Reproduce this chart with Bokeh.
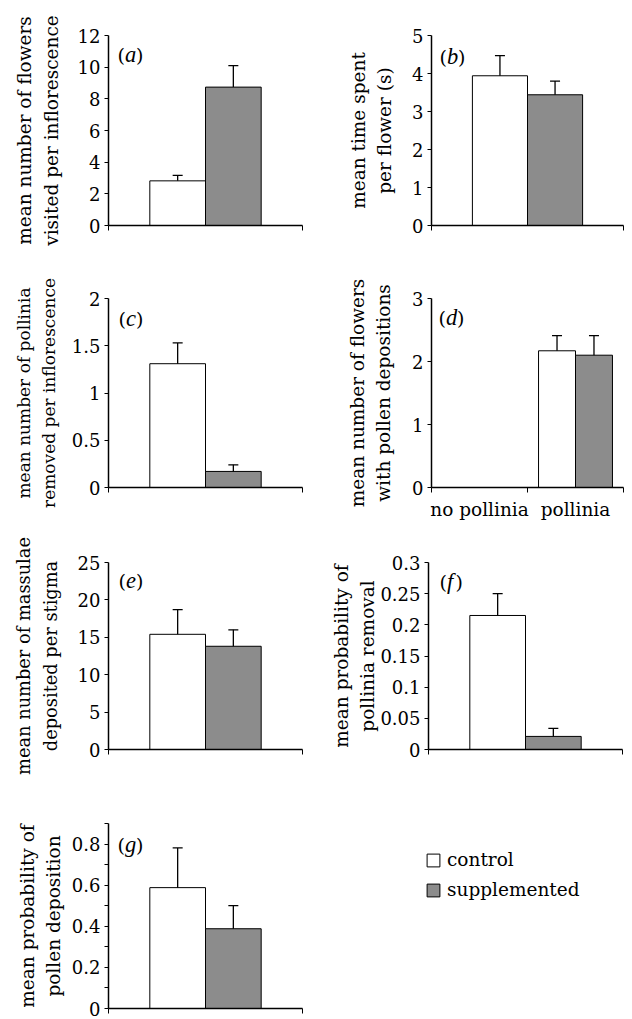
import math
from bokeh.plotting import figure
from bokeh.models import (Range1d, FixedTicker, CustomJSTickFormatter, Label, Whisker,
                          TeeHead, ColumnDataSource, Legend, LegendItem)
from bokeh.layouts import column, row
from bokeh.embed import file_html
from bokeh.resources import INLINE

NAN = float("nan")
SERIES = ["control", "supplemented"]

# ---------------- data ----------------
# (a)
A_CATEGORIES = [""]
A_CONTROL = [2.82]
A_CONTROL_UPPER = [3.16]
A_SUPPLEMENTED = [8.74]
A_SUPPLEMENTED_UPPER = [10.1]
A_YTICKS = [0, 2, 4, 6, 8, 10, 12]
A_YMINOR = []
A_YMAX = 12
A_YLABEL = "mean number of flowers\nvisited per inflorescence"

# (b)
B_CATEGORIES = [""]
B_CONTROL = [3.94]
B_CONTROL_UPPER = [4.47]
B_SUPPLEMENTED = [3.44]
B_SUPPLEMENTED_UPPER = [3.80]
B_YTICKS = [0, 1, 2, 3, 4, 5]
B_YMINOR = []
B_YMAX = 5
B_YLABEL = "mean time spent\nper flower (s)"

# (c)
C_CATEGORIES = [""]
C_CONTROL = [1.31]
C_CONTROL_UPPER = [1.53]
C_SUPPLEMENTED = [0.17]
C_SUPPLEMENTED_UPPER = [0.24]
C_YTICKS = [0, 0.5, 1, 1.5, 2]
C_YMINOR = []
C_YMAX = 2
C_YLABEL = "mean number of pollinia\nremoved per inflorescence"

# (d)
D_CATEGORIES = ["no pollinia", "pollinia"]
D_CONTROL = [NAN, 2.17]
D_CONTROL_UPPER = [NAN, 2.41]
D_SUPPLEMENTED = [NAN, 2.10]
D_SUPPLEMENTED_UPPER = [NAN, 2.41]
D_YTICKS = [0, 1, 2, 3]
D_YMINOR = []
D_YMAX = 3
D_YLABEL = "mean number of flowers\nwith pollen depositions"

# (e)
E_CATEGORIES = [""]
E_CONTROL = [15.4]
E_CONTROL_UPPER = [18.7]
E_SUPPLEMENTED = [13.8]
E_SUPPLEMENTED_UPPER = [16.0]
E_YTICKS = [0, 5, 10, 15, 20, 25]
E_YMINOR = []
E_YMAX = 25
E_YLABEL = "mean number of massulae\ndeposited per stigma"

# (f)
F_CATEGORIES = [""]
F_CONTROL = [0.215]
F_CONTROL_UPPER = [0.250]
F_SUPPLEMENTED = [0.021]
F_SUPPLEMENTED_UPPER = [0.034]
F_YTICKS = [0, 0.05, 0.1, 0.15, 0.2, 0.25, 0.3]
F_YMINOR = []
F_YMAX = 0.3
F_YLABEL = "mean probability of\npollinia removal"

# (g)
G_CATEGORIES = [""]
G_CONTROL = [0.588]
G_CONTROL_UPPER = [0.781]
G_SUPPLEMENTED = [0.388]
G_SUPPLEMENTED_UPPER = [0.50]
G_YTICKS = [0, 0.2, 0.4, 0.6, 0.8]
G_YMINOR = [0.1, 0.3, 0.5, 0.7, 0.9]
G_YMAX = 0.9
G_YLABEL = "mean probability of\npollen deposition"

# ---------------- style ----------------
FONT = "DejaVu Serif"
ITALIC_FONT = "Liberation Serif"
TICK_SIZE = "18px"
LABEL_SIZE = "18.5px"
GRAY = "#8c8c8c"

ROW_STYLE = [
    dict(bt=35, fh=190, bb=45),
    dict(bt=28, fh=189, bb=47),
    dict(bt=28, fh=187, bb=47),
    dict(bt=27, fh=185, bb=11),
]
LETTER_W = {"a": 11.2, "b": 11.2, "c": 10, "d": 11.2, "e": 10, "f": 8.5, "g": 11.2}


def make_panel(letter, cats, ctrl, ctrl_up, supp, supp_up, yticks, yminor, ymax,
               ylabel, st, rs):
    n = len(cats)
    p = figure(frame_width=st["fw"], frame_height=rs["fh"],
               min_border_left=st["bl"], min_border_right=st["br"],
               min_border_top=rs["bt"], min_border_bottom=rs["bb"],
               x_range=Range1d(0, n), y_range=Range1d(0, ymax),
               output_backend="svg", toolbar_location=None, tools="")
    p.grid.visible = False
    p.outline_line_color = None
    bw = st["bw"]
    centers = [i + 0.5 for i in range(n)]
    src_c = ColumnDataSource(dict(x=[c - bw / 2 for c in centers], top=ctrl, upper=ctrl_up))
    src_s = ColumnDataSource(dict(x=[c + bw / 2 for c in centers], top=supp, upper=supp_up))
    p.vbar(x="x", top="top", bottom=0, width=bw, source=src_c,
           fill_color="white", line_color="black", line_width=1)
    p.vbar(x="x", top="top", bottom=0, width=bw, source=src_s,
           fill_color=GRAY, line_color="black", line_width=1)
    for src in (src_c, src_s):
        p.add_layout(Whisker(base="x", lower="top", upper="upper", source=src,
                             dimension="height", lower_head=None,
                             upper_head=TeeHead(size=10, line_color="black", line_width=1.3),
                             line_color="black", line_width=1.3, level="overlay"))

    ya = p.yaxis[0]
    ya.ticker = FixedTicker(ticks=yticks, minor_ticks=yminor)
    ya.formatter = CustomJSTickFormatter(code="return String(Math.round(tick*1000)/1000);")
    ya.major_tick_out = 4
    ya.major_tick_in = 0
    ya.minor_tick_out = 4
    ya.minor_tick_in = 0
    ya.axis_line_width = 1.5
    ya.axis_line_color = "black"
    ya.major_tick_line_color = "black"
    ya.minor_tick_line_color = "black"
    ya.major_label_text_font = FONT
    ya.major_label_text_font_size = TICK_SIZE
    ya.major_label_text_color = "black"
    ya.major_label_standoff = 4
    ya.axis_label = ylabel
    ya.axis_label_text_font = FONT
    ya.axis_label_text_font_size = st.get("lsz", LABEL_SIZE)
    ya.axis_label_text_font_style = "normal"
    ya.axis_label_text_color = "black"
    ya.axis_label_text_line_height = 1.25
    ya.axis_label_standoff = st["ls"]

    xa = p.xaxis[0]
    show = any(c != "" for c in cats)
    xa.ticker = FixedTicker(ticks=centers if show else [], minor_ticks=list(range(n + 1)))
    xa.formatter = CustomJSTickFormatter(args=dict(labels=cats),
                                         code="return labels[Math.floor(tick)];")
    xa.major_tick_out = 0
    xa.major_tick_in = 0
    xa.minor_tick_out = 5
    xa.minor_tick_in = 0
    xa.axis_line_width = 1.5
    xa.axis_line_color = "black"
    xa.minor_tick_line_color = "black"
    xa.major_label_text_font = FONT
    xa.major_label_text_font_size = LABEL_SIZE
    xa.major_label_text_color = "black"
    xa.major_label_standoff = 6 if show else 0

    dx, dy = st["lx"], st["ly"]
    w_paren = 7.4
    for txt, off, font, size, style in (
            ("(", 0, FONT, "19px", "normal"),
            (letter, w_paren, ITALIC_FONT, "22.5px", "italic"),
            (")", w_paren + LETTER_W[letter], FONT, "19px", "normal")):
        p.add_layout(Label(x=0, y=ymax, x_offset=dx + off, y_offset=-dy, text=txt,
                           text_font=font, text_font_size=size,
                           text_font_style=style, text_baseline="alphabetic",
                           text_color="black"))
    return p


COL1 = dict(bl=108, fw=194, br=14, bw=0.287)
PANELS = [
    ("a", A_CATEGORIES, A_CONTROL, A_CONTROL_UPPER, A_SUPPLEMENTED, A_SUPPLEMENTED_UPPER,
     A_YTICKS, A_YMINOR, A_YMAX, A_YLABEL, dict(COL1, ls=13, lx=9, ly=19), 0),
    ("b", B_CATEGORIES, B_CONTROL, B_CONTROL_UPPER, B_SUPPLEMENTED, B_SUPPLEMENTED_UPPER,
     B_YTICKS, B_YMINOR, B_YMAX, B_YLABEL, dict(bl=115, fw=192, br=8, bw=0.287, ls=14, lx=8, ly=21), 0),
    ("c", C_CATEGORIES, C_CONTROL, C_CONTROL_UPPER, C_SUPPLEMENTED, C_SUPPLEMENTED_UPPER,
     C_YTICKS, C_YMINOR, C_YMAX, C_YLABEL, dict(COL1, ls=10, lx=10, ly=20, lsz="17px"), 1),
    ("d", D_CATEGORIES, D_CONTROL, D_CONTROL_UPPER, D_SUPPLEMENTED, D_SUPPLEMENTED_UPPER,
     D_YTICKS, D_YMINOR, D_YMAX, D_YLABEL, dict(bl=115, fw=192, br=8, bw=0.385, ls=15, lx=7, ly=19), 1),
    ("e", E_CATEGORIES, E_CONTROL, E_CONTROL_UPPER, E_SUPPLEMENTED, E_SUPPLEMENTED_UPPER,
     E_YTICKS, E_YMINOR, E_YMAX, E_YLABEL, dict(COL1, ls=14, lx=10, ly=18, lsz="17.8px"), 2),
    ("f", F_CATEGORIES, F_CONTROL, F_CONTROL_UPPER, F_SUPPLEMENTED, F_SUPPLEMENTED_UPPER,
     F_YTICKS, F_YMINOR, F_YMAX, F_YLABEL, dict(bl=112, fw=194, br=9, bw=0.287, ls=-1, lx=11, ly=19), 2),
    ("g", G_CATEGORIES, G_CONTROL, G_CONTROL_UPPER, G_SUPPLEMENTED, G_SUPPLEMENTED_UPPER,
     G_YTICKS, G_YMINOR, G_YMAX, G_YLABEL, dict(COL1, ls=5, lx=9, ly=21), 3),
]

figs = [make_panel(*spec[:11], ROW_STYLE[spec[11]]) for spec in PANELS]

# legend panel (same top/bottom borders as panel g so the row stays aligned)
R4 = ROW_STYLE[3]
LEG_MARGIN = 26
lf = figure(frame_width=315 - (109 - LEG_MARGIN), frame_height=R4["fh"],
            min_border_left=109 - LEG_MARGIN, min_border_top=R4["bt"],
            min_border_right=0, min_border_bottom=R4["bb"],
            x_axis_type=None, y_axis_type=None, x_range=Range1d(0, 1), y_range=Range1d(0, 1),
            output_backend="svg", toolbar_location=None, tools="")
lf.outline_line_color = None
lf.grid.visible = False
off_c = ColumnDataSource(dict(x=[5.0], top=[6.0]))
off_s = ColumnDataSource(dict(x=[5.0], top=[6.0]))
r1 = lf.vbar(x="x", top="top", bottom=5, width=1, source=off_c, fill_color="white", line_color="black")
r2 = lf.vbar(x="x", top="top", bottom=5, width=1, source=off_s, fill_color=GRAY, line_color="black")
legend = Legend(items=[LegendItem(label=SERIES[0], renderers=[r1]),
                       LegendItem(label=SERIES[1], renderers=[r2])],
                location="top_left", orientation="vertical", padding=0, margin=LEG_MARGIN,
                spacing=9, border_line_color=None, background_fill_alpha=0,
                glyph_width=16, glyph_height=16, label_height=20, label_standoff=6,
                label_text_font=FONT, label_text_font_size=LABEL_SIZE,
                label_text_color="black")
lf.add_layout(legend)

layout = column(row(figs[0], figs[1]), row(figs[2], figs[3]),
                row(figs[4], figs[5]), row(figs[6], lf))

open("out.html", "w").write(file_html(layout, INLINE, "chart"))
